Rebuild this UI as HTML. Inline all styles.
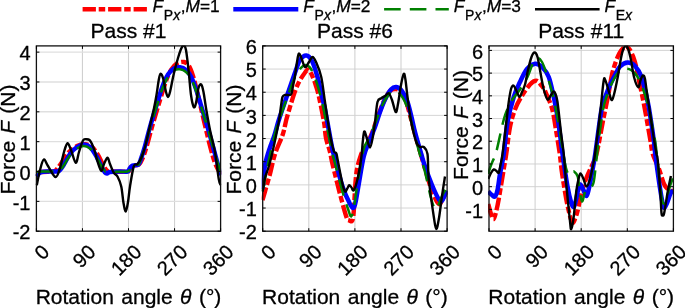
<!DOCTYPE html><html><head><meta charset="utf-8"><title>Force plots</title>
<style>html,body{margin:0;padding:0;background:#fff}svg{display:block}text{font-family:"Liberation Sans",sans-serif;fill:#000;stroke:#000;stroke-width:0.3px}.i{font-style:italic}</style></head><body>
<svg width="685" height="308" viewBox="0 0 685 308">
<rect width="685" height="308" fill="#fff"/>
<line x1="82.6" y1="9.25" x2="146.9" y2="9.25" stroke="#ff0000" stroke-width="4.4" stroke-dasharray="13.3 2.8 6.5 2.9"/>
<text x="152.50" y="12.3" font-size="17.3"><tspan class="i">F</tspan><tspan dx="0.8" dy="7.8" font-size="14">P</tspan><tspan class="i" font-size="14">x</tspan><tspan dy="-7.8" dx="0.6" font-size="17.3">,</tspan><tspan class="i">M</tspan><tspan>=1</tspan></text>
<line x1="233.3" y1="9.25" x2="298.3" y2="9.25" stroke="#0000ff" stroke-width="4.4"/>
<text x="303.20" y="12.3" font-size="17.3"><tspan class="i">F</tspan><tspan dx="0.8" dy="7.8" font-size="14">P</tspan><tspan class="i" font-size="14">x</tspan><tspan dy="-7.8" dx="0.6" font-size="17.3">,</tspan><tspan class="i">M</tspan><tspan>=2</tspan></text>
<line x1="384.1" y1="9.25" x2="448.8" y2="9.25" stroke="#008000" stroke-width="2.5" stroke-dasharray="16.6 9.1"/>
<text x="453.75" y="12.3" font-size="17.3"><tspan class="i">F</tspan><tspan dx="0.8" dy="7.8" font-size="14">P</tspan><tspan class="i" font-size="14">x</tspan><tspan dy="-7.8" dx="0.6" font-size="17.3">,</tspan><tspan class="i">M</tspan><tspan>=3</tspan></text>
<line x1="535.0" y1="9.25" x2="599.6" y2="9.25" stroke="#000" stroke-width="2.6"/>
<text x="604.40" y="12.3" font-size="17.3"><tspan class="i">F</tspan><tspan dx="0.8" dy="7.8" font-size="14">E</tspan><tspan class="i" font-size="14">x</tspan></text>
<g>
<line x1="82.45" y1="45.90" x2="82.45" y2="231.20" stroke="#d0d0d0" stroke-width="1.1"/>
<line x1="128.50" y1="45.90" x2="128.50" y2="231.20" stroke="#d0d0d0" stroke-width="1.1"/>
<line x1="174.55" y1="45.90" x2="174.55" y2="231.20" stroke="#d0d0d0" stroke-width="1.1"/>
<line x1="36.40" y1="201.36" x2="220.60" y2="201.36" stroke="#dfdfdf" stroke-width="1.4"/>
<line x1="36.40" y1="171.51" x2="220.60" y2="171.51" stroke="#dfdfdf" stroke-width="1.4"/>
<line x1="36.40" y1="141.67" x2="220.60" y2="141.67" stroke="#dfdfdf" stroke-width="1.4"/>
<line x1="36.40" y1="111.82" x2="220.60" y2="111.82" stroke="#dfdfdf" stroke-width="1.4"/>
<line x1="36.40" y1="81.98" x2="220.60" y2="81.98" stroke="#dfdfdf" stroke-width="1.4"/>
<line x1="36.40" y1="52.14" x2="220.60" y2="52.14" stroke="#dfdfdf" stroke-width="1.4"/>
<clipPath id="c0"><rect x="35.40" y="45.40" width="185.80" height="186.30"/></clipPath>
<g clip-path="url(#c0)" fill="none" stroke-linejoin="round">
<path d="M36.75 174.50 C37.50 174.08 38.54 172.50 41.25 172.00 C43.96 171.50 50.54 171.83 53.00 171.50 C55.46 171.17 54.83 171.08 56.00 170.00 C57.17 168.92 58.00 167.83 60.00 165.00 C62.00 162.17 65.17 156.17 68.00 153.00 C70.83 149.83 74.17 147.45 77.00 146.00 C79.83 144.55 82.50 144.13 85.00 144.30 C87.50 144.47 89.83 145.22 92.00 147.00 C94.17 148.78 96.00 151.75 98.00 155.00 C100.00 158.25 102.42 163.83 104.00 166.50 C105.58 169.17 106.33 170.17 107.50 171.00 C108.67 171.83 107.67 171.42 111.00 171.50 C114.33 171.58 124.33 172.00 127.50 171.50 C130.67 171.00 129.08 169.50 130.00 168.50 C130.92 167.50 131.50 166.17 133.00 165.50 C134.50 164.83 137.42 165.67 139.00 164.50 C140.58 163.33 141.25 161.42 142.50 158.50 C143.75 155.58 144.92 152.25 146.50 147.00 C148.08 141.75 149.75 134.83 152.00 127.00 C154.25 119.17 157.67 107.67 160.00 100.00 C162.33 92.33 164.17 86.00 166.00 81.00 C167.83 76.00 169.17 72.92 171.00 70.00 C172.83 67.08 174.83 64.83 177.00 63.50 C179.17 62.17 182.00 61.58 184.00 62.00 C186.00 62.42 187.50 63.67 189.00 66.00 C190.50 68.33 191.67 71.83 193.00 76.00 C194.33 80.17 195.21 83.67 197.00 91.00 C198.79 98.33 201.58 110.83 203.75 120.00 C205.92 129.17 208.12 138.83 210.00 146.00 C211.88 153.17 213.21 158.25 215.00 163.00 C216.79 167.75 219.79 172.58 220.75 174.50" stroke="#ff0000" stroke-width="4.4" stroke-dasharray="13.3 2.8 6.5 2.9"/>
<path d="M36.75 176.50 C37.12 176.00 38.25 174.25 39.00 173.50 C39.75 172.75 39.92 172.33 41.25 172.00 C42.58 171.67 44.38 171.58 47.00 171.50 C49.62 171.42 54.92 171.67 57.00 171.50 C59.08 171.33 58.50 171.42 59.50 170.50 C60.50 169.58 61.25 168.75 63.00 166.00 C64.75 163.25 67.67 157.17 70.00 154.00 C72.33 150.83 74.71 148.58 77.00 147.00 C79.29 145.42 81.58 144.50 83.75 144.50 C85.92 144.50 87.96 145.17 90.00 147.00 C92.04 148.83 94.00 152.08 96.00 155.50 C98.00 158.92 100.50 164.67 102.00 167.50 C103.50 170.33 104.17 171.50 105.00 172.50 C105.83 173.50 106.17 173.58 107.00 173.50 C107.83 173.42 107.83 172.33 110.00 172.00 C112.17 171.67 117.08 171.58 120.00 171.50 C122.92 171.42 125.83 172.08 127.50 171.50 C129.17 170.92 129.17 169.00 130.00 168.00 C130.83 167.00 131.08 166.08 132.50 165.50 C133.92 164.92 137.04 165.75 138.50 164.50 C139.96 163.25 140.17 161.08 141.25 158.00 C142.33 154.92 143.54 151.17 145.00 146.00 C146.46 140.83 147.92 134.33 150.00 127.00 C152.08 119.67 155.33 109.00 157.50 102.00 C159.67 95.00 161.25 89.58 163.00 85.00 C164.75 80.42 166.17 77.25 168.00 74.50 C169.83 71.75 172.00 69.70 174.00 68.50 C176.00 67.30 178.00 67.05 180.00 67.30 C182.00 67.55 184.12 68.38 186.00 70.00 C187.88 71.62 189.58 73.83 191.25 77.00 C192.92 80.17 194.54 84.83 196.00 89.00 C197.46 93.17 198.08 95.67 200.00 102.00 C201.92 108.33 205.00 118.33 207.50 127.00 C210.00 135.67 212.79 145.96 215.00 154.00 C217.21 162.04 219.79 171.71 220.75 175.25" stroke="#0000ff" stroke-width="4.5"/>
<path d="M36.75 172.00 C37.50 171.92 37.88 171.58 41.25 171.50 C44.62 171.42 53.96 171.67 57.00 171.50 C60.04 171.33 58.50 171.33 59.50 170.50 C60.50 169.67 61.25 169.00 63.00 166.50 C64.75 164.00 67.67 158.50 70.00 155.50 C72.33 152.50 74.71 150.08 77.00 148.50 C79.29 146.92 81.58 146.00 83.75 146.00 C85.92 146.00 87.96 146.75 90.00 148.50 C92.04 150.25 94.00 153.42 96.00 156.50 C98.00 159.58 100.50 164.58 102.00 167.00 C103.50 169.42 104.00 170.25 105.00 171.00 C106.00 171.75 104.25 171.42 108.00 171.50 C111.75 171.58 123.83 172.08 127.50 171.50 C131.17 170.92 129.17 169.00 130.00 168.00 C130.83 167.00 131.08 166.08 132.50 165.50 C133.92 164.92 137.04 165.75 138.50 164.50 C139.96 163.25 140.17 161.00 141.25 158.00 C142.33 155.00 143.54 151.50 145.00 146.50 C146.46 141.50 147.92 135.17 150.00 128.00 C152.08 120.83 155.33 110.33 157.50 103.50 C159.67 96.67 161.25 91.42 163.00 87.00 C164.75 82.58 166.17 79.75 168.00 77.00 C169.83 74.25 172.00 71.78 174.00 70.50 C176.00 69.22 178.00 69.05 180.00 69.30 C182.00 69.55 184.12 70.38 186.00 72.00 C187.88 73.62 189.58 75.92 191.25 79.00 C192.92 82.08 194.54 86.50 196.00 90.50 C197.46 94.50 198.08 96.83 200.00 103.00 C201.92 109.17 205.00 119.00 207.50 127.50 C210.00 136.00 212.79 146.50 215.00 154.00 C217.21 161.50 219.79 169.42 220.75 172.50" stroke="#008000" stroke-width="2.5" stroke-dasharray="16.6 9.1"/>
<path d="M36.75 185.25 C37.29 182.71 38.83 174.29 40.00 170.00 C41.17 165.71 42.42 160.17 43.75 159.50 C45.08 158.83 46.04 163.08 48.00 166.00 C49.96 168.92 53.50 176.67 55.50 177.00 C57.50 177.33 58.58 172.17 60.00 168.00 C61.42 163.83 62.75 156.12 64.00 152.00 C65.25 147.88 66.33 143.58 67.50 143.25 C68.67 142.92 69.62 146.75 71.00 150.00 C72.38 153.25 74.42 162.42 75.75 162.75 C77.08 163.08 77.79 155.71 79.00 152.00 C80.21 148.29 81.79 142.62 83.00 140.50 C84.21 138.38 85.17 139.33 86.25 139.25 C87.33 139.17 88.54 139.21 89.50 140.00 C90.46 140.79 91.08 142.00 92.00 144.00 C92.92 146.00 94.08 149.08 95.00 152.00 C95.92 154.92 96.46 158.33 97.50 161.50 C98.54 164.67 100.17 170.58 101.25 171.00 C102.33 171.42 102.96 166.21 104.00 164.00 C105.04 161.79 106.50 157.75 107.50 157.75 C108.50 157.75 108.96 161.50 110.00 164.00 C111.04 166.50 112.50 170.67 113.75 172.75 C115.00 174.83 116.25 174.21 117.50 176.50 C118.75 178.79 120.25 182.08 121.25 186.50 C122.25 190.92 122.75 198.83 123.50 203.00 C124.25 207.17 125.00 211.67 125.75 211.50 C126.50 211.33 127.29 206.17 128.00 202.00 C128.71 197.83 129.04 192.42 130.00 186.50 C130.96 180.58 132.50 170.25 133.75 166.50 C135.00 162.75 136.25 165.42 137.50 164.00 C138.75 162.58 140.00 160.83 141.25 158.00 C142.50 155.17 143.71 151.67 145.00 147.00 C146.29 142.33 147.54 136.25 149.00 130.00 C150.46 123.75 152.50 115.33 153.75 109.50 C155.00 103.67 155.67 99.92 156.50 95.00 C157.33 90.08 158.08 83.54 158.75 80.00 C159.42 76.46 159.79 74.08 160.50 73.75 C161.21 73.42 162.08 74.96 163.00 78.00 C163.92 81.04 165.17 88.83 166.00 92.00 C166.83 95.17 167.33 97.00 168.00 97.00 C168.67 97.00 169.04 95.83 170.00 92.00 C170.96 88.17 172.42 79.67 173.75 74.00 C175.08 68.33 176.71 62.33 178.00 58.00 C179.29 53.67 180.54 50.08 181.50 48.00 C182.46 45.92 183.00 45.17 183.75 45.50 C184.50 45.83 185.17 45.58 186.00 50.00 C186.83 54.42 187.92 64.50 188.75 72.00 C189.58 79.50 190.17 89.17 191.00 95.00 C191.83 100.83 192.92 105.67 193.75 107.00 C194.58 108.33 195.21 106.17 196.00 103.00 C196.79 99.83 197.62 91.08 198.50 88.00 C199.38 84.92 200.42 83.83 201.25 84.50 C202.08 85.17 202.67 87.83 203.50 92.00 C204.33 96.17 205.17 103.17 206.25 109.50 C207.33 115.83 208.54 122.92 210.00 130.00 C211.46 137.08 213.54 143.83 215.00 152.00 C216.46 160.17 217.79 173.46 218.75 179.00 C219.71 184.54 220.42 184.21 220.75 185.25" stroke="#000" stroke-width="2.4"/>
</g>
<rect x="36.40" y="45.90" width="184.20" height="185.30" fill="none" stroke="#111" stroke-width="1.3"/>
<line x1="36.40" y1="231.20" x2="36.40" y2="228.20" stroke="#000" stroke-width="1"/>
<line x1="36.40" y1="45.90" x2="36.40" y2="48.90" stroke="#000" stroke-width="1"/>
<line x1="82.45" y1="231.20" x2="82.45" y2="228.20" stroke="#000" stroke-width="1"/>
<line x1="82.45" y1="45.90" x2="82.45" y2="48.90" stroke="#000" stroke-width="1"/>
<line x1="128.50" y1="231.20" x2="128.50" y2="228.20" stroke="#000" stroke-width="1"/>
<line x1="128.50" y1="45.90" x2="128.50" y2="48.90" stroke="#000" stroke-width="1"/>
<line x1="174.55" y1="231.20" x2="174.55" y2="228.20" stroke="#000" stroke-width="1"/>
<line x1="174.55" y1="45.90" x2="174.55" y2="48.90" stroke="#000" stroke-width="1"/>
<line x1="220.60" y1="231.20" x2="220.60" y2="228.20" stroke="#000" stroke-width="1"/>
<line x1="220.60" y1="45.90" x2="220.60" y2="48.90" stroke="#000" stroke-width="1"/>
<line x1="36.40" y1="231.20" x2="39.40" y2="231.20" stroke="#000" stroke-width="1"/>
<line x1="220.60" y1="231.20" x2="217.60" y2="231.20" stroke="#000" stroke-width="1"/>
<text x="30.50" y="239.40" font-size="20" text-anchor="end">-2</text>
<line x1="36.40" y1="201.36" x2="39.40" y2="201.36" stroke="#000" stroke-width="1"/>
<line x1="220.60" y1="201.36" x2="217.60" y2="201.36" stroke="#000" stroke-width="1"/>
<text x="30.50" y="209.56" font-size="20" text-anchor="end">-1</text>
<line x1="36.40" y1="171.51" x2="39.40" y2="171.51" stroke="#000" stroke-width="1"/>
<line x1="220.60" y1="171.51" x2="217.60" y2="171.51" stroke="#000" stroke-width="1"/>
<text x="30.50" y="179.71" font-size="20" text-anchor="end">0</text>
<line x1="36.40" y1="141.67" x2="39.40" y2="141.67" stroke="#000" stroke-width="1"/>
<line x1="220.60" y1="141.67" x2="217.60" y2="141.67" stroke="#000" stroke-width="1"/>
<text x="30.50" y="149.87" font-size="20" text-anchor="end">1</text>
<line x1="36.40" y1="111.82" x2="39.40" y2="111.82" stroke="#000" stroke-width="1"/>
<line x1="220.60" y1="111.82" x2="217.60" y2="111.82" stroke="#000" stroke-width="1"/>
<text x="30.50" y="120.02" font-size="20" text-anchor="end">2</text>
<line x1="36.40" y1="81.98" x2="39.40" y2="81.98" stroke="#000" stroke-width="1"/>
<line x1="220.60" y1="81.98" x2="217.60" y2="81.98" stroke="#000" stroke-width="1"/>
<text x="30.50" y="90.18" font-size="20" text-anchor="end">3</text>
<line x1="36.40" y1="52.14" x2="39.40" y2="52.14" stroke="#000" stroke-width="1"/>
<line x1="220.60" y1="52.14" x2="217.60" y2="52.14" stroke="#000" stroke-width="1"/>
<text x="30.50" y="60.34" font-size="20" text-anchor="end">4</text>
<text transform="translate(50.70 253.20) rotate(-45)" font-size="20" text-anchor="end">0</text>
<text transform="translate(96.75 253.20) rotate(-45)" font-size="20" text-anchor="end">90</text>
<text transform="translate(142.80 253.20) rotate(-45)" font-size="20" text-anchor="end">180</text>
<text transform="translate(188.85 253.20) rotate(-45)" font-size="20" text-anchor="end">270</text>
<text transform="translate(234.90 253.20) rotate(-45)" font-size="20" text-anchor="end">360</text>
<text x="128.50" y="37.6" font-size="21" text-anchor="middle">Pass #1</text>
<text x="128.50" y="303.5" font-size="21" word-spacing="1.6" text-anchor="middle">Rotation angle <tspan class="i">θ</tspan> (°)</text>
<text transform="translate(15.10 139.55) rotate(-90)" font-size="21" word-spacing="1.3" text-anchor="middle">Force <tspan class="i">F</tspan> (N)</text>
</g>
<g>
<line x1="308.80" y1="45.90" x2="308.80" y2="231.20" stroke="#d2d2d2" stroke-width="1.1"/>
<line x1="354.90" y1="45.90" x2="354.90" y2="231.20" stroke="#d2d2d2" stroke-width="1.1"/>
<line x1="401.00" y1="45.90" x2="401.00" y2="231.20" stroke="#d2d2d2" stroke-width="1.1"/>
<line x1="262.70" y1="208.04" x2="447.10" y2="208.04" stroke="#d0d0d0" stroke-width="0.9"/>
<line x1="262.70" y1="184.88" x2="447.10" y2="184.88" stroke="#d0d0d0" stroke-width="0.9"/>
<line x1="262.70" y1="161.71" x2="447.10" y2="161.71" stroke="#d0d0d0" stroke-width="0.9"/>
<line x1="262.70" y1="138.55" x2="447.10" y2="138.55" stroke="#d0d0d0" stroke-width="0.9"/>
<line x1="262.70" y1="115.39" x2="447.10" y2="115.39" stroke="#d0d0d0" stroke-width="0.9"/>
<line x1="262.70" y1="92.22" x2="447.10" y2="92.22" stroke="#d0d0d0" stroke-width="0.9"/>
<line x1="262.70" y1="69.06" x2="447.10" y2="69.06" stroke="#d0d0d0" stroke-width="0.9"/>
<line x1="262.70" y1="45.90" x2="447.10" y2="45.90" stroke="#d0d0d0" stroke-width="0.9"/>
<clipPath id="c1"><rect x="261.70" y="45.40" width="186.00" height="186.30"/></clipPath>
<g clip-path="url(#c1)" fill="none" stroke-linejoin="round">
<path d="M262.50 200.25 C263.08 198.21 264.75 192.38 266.00 188.00 C267.25 183.62 268.50 179.67 270.00 174.00 C271.50 168.33 272.88 160.58 275.00 154.00 C277.12 147.42 280.83 140.33 282.75 134.50 C284.67 128.67 285.04 124.42 286.50 119.00 C287.96 113.58 290.00 106.83 291.50 102.00 C293.00 97.17 294.25 93.33 295.50 90.00 C296.75 86.67 297.58 84.67 299.00 82.00 C300.42 79.33 302.43 76.08 304.00 74.00 C305.57 71.92 306.94 69.00 308.40 69.50 C309.86 70.00 311.48 74.25 312.75 77.00 C314.02 79.75 314.96 82.67 316.00 86.00 C317.04 89.33 317.67 91.00 319.00 97.00 C320.33 103.00 322.83 115.17 324.00 122.00 C325.17 128.83 325.00 133.00 326.00 138.00 C327.00 143.00 328.92 147.67 330.00 152.00 C331.08 156.33 330.83 157.00 332.50 164.00 C334.17 171.00 337.71 185.25 340.00 194.00 C342.29 202.75 344.79 212.12 346.25 216.50 C347.71 220.88 347.76 219.57 348.75 220.25 C349.74 220.93 351.37 222.06 352.20 220.60 C353.03 219.14 353.07 219.27 353.75 211.50 C354.43 203.73 355.00 183.58 356.25 174.00 C357.50 164.42 359.62 158.67 361.25 154.00 C362.88 149.33 364.21 149.50 366.00 146.00 C367.79 142.50 370.00 138.00 372.00 133.00 C374.00 128.00 376.00 121.33 378.00 116.00 C380.00 110.67 382.00 105.17 384.00 101.00 C386.00 96.83 388.00 93.00 390.00 91.00 C392.00 89.00 394.17 88.83 396.00 89.00 C397.83 89.17 399.33 90.00 401.00 92.00 C402.67 94.00 404.33 96.50 406.00 101.00 C407.67 105.50 409.50 113.50 411.00 119.00 C412.50 124.50 413.33 128.00 415.00 134.00 C416.67 140.00 419.17 148.67 421.00 155.00 C422.83 161.33 424.17 166.00 426.00 172.00 C427.83 178.00 429.88 185.67 432.00 191.00 C434.12 196.33 436.92 202.83 438.75 204.00 C440.58 205.17 441.71 200.08 443.00 198.00 C444.29 195.92 445.92 192.58 446.50 191.50" stroke="#ff0000" stroke-width="4.4" stroke-dasharray="13.3 2.8 6.5 2.9"/>
<path d="M262.50 189.00 C262.67 187.17 263.02 182.30 263.50 178.00 C263.98 173.70 264.38 168.10 265.40 163.20 C266.42 158.30 268.13 153.13 269.60 148.60 C271.07 144.07 272.72 140.60 274.20 136.00 C275.68 131.40 277.03 125.75 278.50 121.00 C279.97 116.25 281.25 112.67 283.00 107.50 C284.75 102.33 286.96 95.92 289.00 90.00 C291.04 84.08 293.42 77.00 295.25 72.00 C297.08 67.00 298.17 62.75 300.00 60.00 C301.83 57.25 304.25 55.33 306.25 55.50 C308.25 55.67 310.12 57.42 312.00 61.00 C313.88 64.58 316.00 71.83 317.50 77.00 C319.00 82.17 319.75 86.58 321.00 92.00 C322.25 97.42 323.67 103.00 325.00 109.50 C326.33 116.00 327.75 124.33 329.00 131.00 C330.25 137.67 331.50 144.83 332.50 149.50 C333.50 154.17 333.33 152.83 335.00 159.00 C336.67 165.17 340.00 179.00 342.50 186.50 C345.00 194.00 348.12 200.46 350.00 204.00 C351.88 207.54 352.75 208.42 353.75 207.75 C354.75 207.08 355.17 203.96 356.00 200.00 C356.83 196.04 357.46 191.25 358.75 184.00 C360.04 176.75 362.04 163.50 363.75 156.50 C365.46 149.50 367.12 146.92 369.00 142.00 C370.88 137.08 373.17 132.00 375.00 127.00 C376.83 122.00 378.33 116.58 380.00 112.00 C381.67 107.42 383.17 103.25 385.00 99.50 C386.83 95.75 389.12 91.58 391.00 89.50 C392.88 87.42 394.42 86.75 396.25 87.00 C398.08 87.25 400.12 88.50 402.00 91.00 C403.88 93.50 405.92 97.67 407.50 102.00 C409.08 106.33 410.25 112.00 411.50 117.00 C412.75 122.00 413.38 125.83 415.00 132.00 C416.62 138.17 419.58 148.25 421.25 154.00 C422.92 159.75 423.21 161.33 425.00 166.50 C426.79 171.67 429.83 179.75 432.00 185.00 C434.17 190.25 436.46 195.25 438.00 198.00 C439.54 200.75 440.25 201.67 441.25 201.50 C442.25 201.33 443.12 198.83 444.00 197.00 C444.88 195.17 446.08 191.58 446.50 190.50" stroke="#0000ff" stroke-width="4.5"/>
<path d="M262.50 191.50 C262.92 189.42 263.75 185.08 265.00 179.00 C266.25 172.92 268.17 163.17 270.00 155.00 C271.83 146.83 274.00 137.17 276.00 130.00 C278.00 122.83 279.92 118.00 282.00 112.00 C284.08 106.00 286.42 99.67 288.50 94.00 C290.58 88.33 292.58 82.17 294.50 78.00 C296.42 73.83 298.17 71.17 300.00 69.00 C301.83 66.83 303.67 65.00 305.50 65.00 C307.33 65.00 309.17 66.17 311.00 69.00 C312.83 71.83 314.83 77.17 316.50 82.00 C318.17 86.83 319.58 92.33 321.00 98.00 C322.42 103.67 323.67 109.50 325.00 116.00 C326.33 122.50 327.75 130.67 329.00 137.00 C330.25 143.33 331.50 149.67 332.50 154.00 C333.50 158.33 333.42 157.00 335.00 163.00 C336.58 169.00 339.83 182.33 342.00 190.00 C344.17 197.67 346.46 204.58 348.00 209.00 C349.54 213.42 350.25 216.83 351.25 216.50 C352.25 216.17 353.04 211.92 354.00 207.00 C354.96 202.08 355.83 194.50 357.00 187.00 C358.17 179.50 359.83 168.50 361.00 162.00 C362.17 155.50 362.67 152.00 364.00 148.00 C365.33 144.00 367.17 142.00 369.00 138.00 C370.83 134.00 373.17 128.58 375.00 124.00 C376.83 119.42 378.33 114.50 380.00 110.50 C381.67 106.50 383.25 103.00 385.00 100.00 C386.75 97.00 388.83 94.04 390.50 92.50 C392.17 90.96 393.42 90.50 395.00 90.75 C396.58 91.00 398.33 92.12 400.00 94.00 C401.67 95.88 403.33 98.17 405.00 102.00 C406.67 105.83 408.50 111.83 410.00 117.00 C411.50 122.17 412.33 126.67 414.00 133.00 C415.67 139.33 418.17 148.50 420.00 155.00 C421.83 161.50 423.17 164.83 425.00 172.00 C426.83 179.17 429.33 191.83 431.00 198.00 C432.67 204.17 433.83 207.67 435.00 209.00 C436.17 210.33 436.83 208.17 438.00 206.00 C439.17 203.83 440.58 199.00 442.00 196.00 C443.42 193.00 445.75 189.33 446.50 188.00" stroke="#008000" stroke-width="2.5" stroke-dasharray="16.6 9.1"/>
<path d="M262.50 191.50 C262.92 189.25 263.96 182.17 265.00 178.00 C266.04 173.83 267.50 170.83 268.75 166.50 C270.00 162.17 270.83 159.42 272.50 152.00 C274.17 144.58 277.33 129.67 278.75 122.00 C280.17 114.33 280.38 110.17 281.00 106.00 C281.62 101.83 281.83 98.83 282.50 97.00 C283.17 95.17 283.58 95.42 285.00 95.00 C286.42 94.58 289.67 96.00 291.00 94.50 C292.33 93.00 292.33 89.08 293.00 86.00 C293.67 82.92 294.33 80.00 295.00 76.00 C295.67 72.00 296.38 65.71 297.00 62.00 C297.62 58.29 298.08 54.58 298.75 53.75 C299.42 52.92 299.96 54.79 301.00 57.00 C302.04 59.21 303.67 66.17 305.00 67.00 C306.33 67.83 307.75 63.67 309.00 62.00 C310.25 60.33 311.33 57.00 312.50 57.00 C313.67 57.00 314.54 58.67 316.00 62.00 C317.46 65.33 319.75 70.33 321.25 77.00 C322.75 83.67 323.54 92.42 325.00 102.00 C326.46 111.58 328.54 126.38 330.00 134.50 C331.46 142.62 332.71 147.62 333.75 150.75 C334.79 153.88 335.62 151.88 336.25 153.25 C336.88 154.62 336.46 153.88 337.50 159.00 C338.54 164.12 341.25 178.58 342.50 184.00 C343.75 189.42 344.25 190.67 345.00 191.50 C345.75 192.33 346.29 190.04 347.00 189.00 C347.71 187.96 348.50 185.50 349.25 185.25 C350.00 185.00 350.75 186.67 351.50 187.50 C352.25 188.33 352.75 191.67 353.75 190.25 C354.75 188.83 356.25 184.38 357.50 179.00 C358.75 173.62 360.38 164.17 361.25 158.00 C362.12 151.83 362.25 146.42 362.75 142.00 C363.25 137.58 363.62 132.33 364.25 131.50 C364.88 130.67 365.54 134.33 366.50 137.00 C367.46 139.67 368.92 147.67 370.00 147.50 C371.08 147.33 372.17 140.25 373.00 136.00 C373.83 131.75 374.25 127.67 375.00 122.00 C375.75 116.33 376.46 105.96 377.50 102.00 C378.54 98.04 380.00 99.25 381.25 98.25 C382.50 97.25 383.75 96.83 385.00 96.00 C386.25 95.17 387.58 92.58 388.75 93.25 C389.92 93.92 390.83 96.88 392.00 100.00 C393.17 103.12 394.75 111.33 395.75 112.00 C396.75 112.67 397.12 108.50 398.00 104.00 C398.88 99.50 400.04 90.04 401.00 85.00 C401.96 79.96 403.00 74.58 403.75 73.75 C404.50 72.92 404.88 76.12 405.50 80.00 C406.12 83.88 406.54 90.00 407.50 97.00 C408.46 104.00 409.79 114.50 411.25 122.00 C412.71 129.50 414.79 137.83 416.25 142.00 C417.71 146.17 418.75 146.17 420.00 147.00 C421.25 147.83 422.50 145.83 423.75 147.00 C425.00 148.17 426.67 148.67 427.50 154.00 C428.33 159.33 427.71 168.58 428.75 179.00 C429.79 189.42 432.50 208.17 433.75 216.50 C435.00 224.83 435.38 228.75 436.25 229.00 C437.12 229.25 438.04 223.50 439.00 218.00 C439.96 212.50 441.00 202.92 442.00 196.00 C443.00 189.08 444.50 179.75 445.00 176.50" stroke="#000" stroke-width="2.4"/>
</g>
<rect x="262.70" y="45.90" width="184.40" height="185.30" fill="none" stroke="#111" stroke-width="1.3"/>
<line x1="262.70" y1="231.20" x2="262.70" y2="228.20" stroke="#000" stroke-width="1"/>
<line x1="262.70" y1="45.90" x2="262.70" y2="48.90" stroke="#000" stroke-width="1"/>
<line x1="308.80" y1="231.20" x2="308.80" y2="228.20" stroke="#000" stroke-width="1"/>
<line x1="308.80" y1="45.90" x2="308.80" y2="48.90" stroke="#000" stroke-width="1"/>
<line x1="354.90" y1="231.20" x2="354.90" y2="228.20" stroke="#000" stroke-width="1"/>
<line x1="354.90" y1="45.90" x2="354.90" y2="48.90" stroke="#000" stroke-width="1"/>
<line x1="401.00" y1="231.20" x2="401.00" y2="228.20" stroke="#000" stroke-width="1"/>
<line x1="401.00" y1="45.90" x2="401.00" y2="48.90" stroke="#000" stroke-width="1"/>
<line x1="447.10" y1="231.20" x2="447.10" y2="228.20" stroke="#000" stroke-width="1"/>
<line x1="447.10" y1="45.90" x2="447.10" y2="48.90" stroke="#000" stroke-width="1"/>
<line x1="262.70" y1="231.20" x2="265.70" y2="231.20" stroke="#000" stroke-width="1"/>
<line x1="447.10" y1="231.20" x2="444.10" y2="231.20" stroke="#000" stroke-width="1"/>
<text x="256.80" y="239.40" font-size="20" text-anchor="end">-2</text>
<line x1="262.70" y1="208.04" x2="265.70" y2="208.04" stroke="#000" stroke-width="1"/>
<line x1="447.10" y1="208.04" x2="444.10" y2="208.04" stroke="#000" stroke-width="1"/>
<text x="256.80" y="216.24" font-size="20" text-anchor="end">-1</text>
<line x1="262.70" y1="184.88" x2="265.70" y2="184.88" stroke="#000" stroke-width="1"/>
<line x1="447.10" y1="184.88" x2="444.10" y2="184.88" stroke="#000" stroke-width="1"/>
<text x="256.80" y="193.07" font-size="20" text-anchor="end">0</text>
<line x1="262.70" y1="161.71" x2="265.70" y2="161.71" stroke="#000" stroke-width="1"/>
<line x1="447.10" y1="161.71" x2="444.10" y2="161.71" stroke="#000" stroke-width="1"/>
<text x="256.80" y="169.91" font-size="20" text-anchor="end">1</text>
<line x1="262.70" y1="138.55" x2="265.70" y2="138.55" stroke="#000" stroke-width="1"/>
<line x1="447.10" y1="138.55" x2="444.10" y2="138.55" stroke="#000" stroke-width="1"/>
<text x="256.80" y="146.75" font-size="20" text-anchor="end">2</text>
<line x1="262.70" y1="115.39" x2="265.70" y2="115.39" stroke="#000" stroke-width="1"/>
<line x1="447.10" y1="115.39" x2="444.10" y2="115.39" stroke="#000" stroke-width="1"/>
<text x="256.80" y="123.59" font-size="20" text-anchor="end">3</text>
<line x1="262.70" y1="92.22" x2="265.70" y2="92.22" stroke="#000" stroke-width="1"/>
<line x1="447.10" y1="92.22" x2="444.10" y2="92.22" stroke="#000" stroke-width="1"/>
<text x="256.80" y="100.42" font-size="20" text-anchor="end">4</text>
<line x1="262.70" y1="69.06" x2="265.70" y2="69.06" stroke="#000" stroke-width="1"/>
<line x1="447.10" y1="69.06" x2="444.10" y2="69.06" stroke="#000" stroke-width="1"/>
<text x="256.80" y="77.26" font-size="20" text-anchor="end">5</text>
<line x1="262.70" y1="45.90" x2="265.70" y2="45.90" stroke="#000" stroke-width="1"/>
<line x1="447.10" y1="45.90" x2="444.10" y2="45.90" stroke="#000" stroke-width="1"/>
<text x="256.80" y="54.10" font-size="20" text-anchor="end">6</text>
<text transform="translate(277.00 253.20) rotate(-45)" font-size="20" text-anchor="end">0</text>
<text transform="translate(323.10 253.20) rotate(-45)" font-size="20" text-anchor="end">90</text>
<text transform="translate(369.20 253.20) rotate(-45)" font-size="20" text-anchor="end">180</text>
<text transform="translate(415.30 253.20) rotate(-45)" font-size="20" text-anchor="end">270</text>
<text transform="translate(461.40 253.20) rotate(-45)" font-size="20" text-anchor="end">360</text>
<text x="354.90" y="37.6" font-size="21" text-anchor="middle">Pass #6</text>
<text x="354.90" y="303.5" font-size="21" word-spacing="1.6" text-anchor="middle">Rotation angle <tspan class="i">θ</tspan> (°)</text>
<text transform="translate(241.40 139.55) rotate(-90)" font-size="21" word-spacing="1.3" text-anchor="middle">Force <tspan class="i">F</tspan> (N)</text>
</g>
<g>
<line x1="535.10" y1="45.90" x2="535.10" y2="231.20" stroke="#cecece" stroke-width="1.0"/>
<line x1="581.20" y1="45.90" x2="581.20" y2="231.20" stroke="#cecece" stroke-width="1.0"/>
<line x1="627.30" y1="45.90" x2="627.30" y2="231.20" stroke="#cecece" stroke-width="1.0"/>
<line x1="489.00" y1="209.39" x2="673.40" y2="209.39" stroke="#cecece" stroke-width="0.9"/>
<line x1="489.00" y1="186.68" x2="673.40" y2="186.68" stroke="#cecece" stroke-width="0.9"/>
<line x1="489.00" y1="163.97" x2="673.40" y2="163.97" stroke="#cecece" stroke-width="0.9"/>
<line x1="489.00" y1="141.25" x2="673.40" y2="141.25" stroke="#cecece" stroke-width="0.9"/>
<line x1="489.00" y1="118.54" x2="673.40" y2="118.54" stroke="#cecece" stroke-width="0.9"/>
<line x1="489.00" y1="95.83" x2="673.40" y2="95.83" stroke="#cecece" stroke-width="0.9"/>
<line x1="489.00" y1="73.11" x2="673.40" y2="73.11" stroke="#cecece" stroke-width="0.9"/>
<line x1="489.00" y1="50.40" x2="673.40" y2="50.40" stroke="#cecece" stroke-width="0.9"/>
<clipPath id="c2"><rect x="488.00" y="45.40" width="186.00" height="186.30"/></clipPath>
<g clip-path="url(#c2)" fill="none" stroke-linejoin="round">
<path d="M488.30 204.00 C488.75 205.67 490.09 211.50 491.00 214.00 C491.91 216.50 492.83 219.67 493.75 219.00 C494.67 218.33 495.67 213.33 496.50 210.00 C497.33 206.67 497.54 205.83 498.75 199.00 C499.96 192.17 502.50 176.50 503.75 169.00 C505.00 161.50 505.21 161.00 506.25 154.00 C507.29 147.00 508.54 134.42 510.00 127.00 C511.46 119.58 513.12 114.50 515.00 109.50 C516.88 104.50 518.75 101.17 521.25 97.00 C523.75 92.83 527.50 87.21 530.00 84.50 C532.50 81.79 534.42 80.67 536.25 80.75 C538.08 80.83 539.46 83.12 541.00 85.00 C542.54 86.88 543.62 87.92 545.50 92.00 C547.38 96.08 550.50 102.83 552.30 109.50 C554.10 116.17 555.05 124.58 556.30 132.00 C557.55 139.42 558.88 147.42 559.80 154.00 C560.72 160.58 560.72 164.00 561.80 171.50 C562.88 179.00 564.88 191.58 566.25 199.00 C567.62 206.42 568.96 212.04 570.00 216.00 C571.04 219.96 571.67 222.25 572.50 222.75 C573.33 223.25 574.12 221.08 575.00 219.00 C575.88 216.92 576.67 214.58 577.75 210.25 C578.83 205.92 580.04 198.42 581.50 193.00 C582.96 187.58 584.83 182.17 586.50 177.75 C588.17 173.33 589.83 170.46 591.50 166.50 C593.17 162.54 594.62 161.42 596.50 154.00 C598.38 146.58 601.17 130.00 602.75 122.00 C604.33 114.00 604.96 111.17 606.00 106.00 C607.04 100.83 608.00 96.25 609.00 91.00 C610.00 85.75 610.88 79.33 612.00 74.50 C613.12 69.67 614.47 65.55 615.70 62.00 C616.93 58.45 618.18 55.48 619.40 53.20 C620.62 50.92 621.85 49.37 623.00 48.30 C624.15 47.23 625.22 46.63 626.30 46.80 C627.38 46.97 628.35 47.63 629.50 49.30 C630.65 50.97 632.03 53.68 633.20 56.80 C634.37 59.92 635.45 63.63 636.50 68.00 C637.55 72.37 638.25 76.92 639.50 83.00 C640.75 89.08 642.21 95.08 644.00 104.50 C645.79 113.92 648.79 131.25 650.25 139.50 C651.71 147.75 651.29 149.08 652.75 154.00 C654.21 158.92 657.12 164.00 659.00 169.00 C660.88 174.00 662.33 180.46 664.00 184.00 C665.67 187.54 667.50 189.08 669.00 190.25 C670.50 191.42 672.33 190.88 673.00 191.00" stroke="#ff0000" stroke-width="4.4" stroke-dasharray="13.3 2.8 6.5 2.9"/>
<path d="M488.30 191.50 C488.92 192.08 490.88 194.17 492.00 195.00 C493.12 195.83 494.08 197.33 495.00 196.50 C495.92 195.67 496.67 193.75 497.50 190.00 C498.33 186.25 498.96 180.00 500.00 174.00 C501.04 168.00 502.50 162.67 503.75 154.00 C505.00 145.33 505.83 131.50 507.50 122.00 C509.17 112.50 511.67 103.67 513.75 97.00 C515.83 90.33 517.79 86.67 520.00 82.00 C522.21 77.33 524.50 72.04 527.00 69.00 C529.50 65.96 532.50 64.08 535.00 63.75 C537.50 63.42 539.71 64.79 542.00 67.00 C544.29 69.21 546.79 72.00 548.75 77.00 C550.71 82.00 552.38 90.83 553.75 97.00 C555.12 103.17 555.96 107.75 557.00 114.00 C558.04 120.25 559.08 127.83 560.00 134.50 C560.92 141.17 561.25 145.33 562.50 154.00 C563.75 162.67 566.08 178.50 567.50 186.50 C568.92 194.50 569.96 198.58 571.00 202.00 C572.04 205.42 572.92 207.33 573.75 207.00 C574.58 206.67 575.21 203.17 576.00 200.00 C576.79 196.83 577.75 190.58 578.50 188.00 C579.25 185.42 579.75 184.33 580.50 184.50 C581.25 184.67 582.00 187.08 583.00 189.00 C584.00 190.92 585.50 196.17 586.50 196.00 C587.50 195.83 588.17 191.42 589.00 188.00 C589.83 184.58 590.46 181.17 591.50 175.50 C592.54 169.83 593.58 165.00 595.25 154.00 C596.92 143.00 599.71 119.33 601.50 109.50 C603.29 99.67 604.54 99.17 606.00 95.00 C607.46 90.83 608.92 87.50 610.25 84.50 C611.58 81.50 612.38 80.00 614.00 77.00 C615.62 74.00 617.71 68.92 620.00 66.50 C622.29 64.08 625.25 62.58 627.75 62.50 C630.25 62.42 632.71 63.58 635.00 66.00 C637.29 68.42 639.38 71.00 641.50 77.00 C643.62 83.00 646.17 94.67 647.75 102.00 C649.33 109.33 649.96 114.33 651.00 121.00 C652.04 127.67 653.29 136.50 654.00 142.00 C654.71 147.50 654.42 147.42 655.25 154.00 C656.08 160.58 657.88 173.83 659.00 181.50 C660.12 189.17 661.17 195.62 662.00 200.00 C662.83 204.38 663.17 207.25 664.00 207.75 C664.83 208.25 665.96 205.29 667.00 203.00 C668.04 200.71 669.25 196.17 670.25 194.00 C671.25 191.83 672.54 190.67 673.00 190.00" stroke="#0000ff" stroke-width="4.5"/>
<path d="M488.30 174.00 C488.58 173.00 489.30 170.08 490.00 168.00 C490.70 165.92 491.46 164.17 492.50 161.50 C493.54 158.83 494.58 158.17 496.25 152.00 C497.92 145.83 500.83 131.17 502.50 124.50 C504.17 117.83 504.58 116.17 506.25 112.00 C507.92 107.83 510.21 103.25 512.50 99.50 C514.79 95.75 517.50 93.25 520.00 89.50 C522.50 85.75 525.33 81.42 527.50 77.00 C529.67 72.58 531.33 66.17 533.00 63.00 C534.67 59.83 536.00 58.17 537.50 58.00 C539.00 57.83 540.42 59.17 542.00 62.00 C543.58 64.83 545.33 70.00 547.00 75.00 C548.67 80.00 550.50 86.17 552.00 92.00 C553.50 97.83 554.67 103.33 556.00 110.00 C557.33 116.67 558.83 125.00 560.00 132.00 C561.17 139.00 562.00 146.00 563.00 152.00 C564.00 158.00 565.00 164.12 566.00 168.00 C567.00 171.88 568.00 174.50 569.00 175.25 C570.00 176.00 571.17 173.12 572.00 172.50 C572.83 171.88 573.04 170.83 574.00 171.50 C574.96 172.17 576.83 173.58 577.75 176.50 C578.67 179.42 578.79 184.83 579.50 189.00 C580.21 193.17 581.04 201.08 582.00 201.50 C582.96 201.92 584.08 193.58 585.25 191.50 C586.42 189.42 587.62 190.46 589.00 189.00 C590.38 187.54 592.25 187.75 593.50 182.75 C594.75 177.75 595.42 167.79 596.50 159.00 C597.58 150.21 598.75 139.00 600.00 130.00 C601.25 121.00 602.50 111.67 604.00 105.00 C605.50 98.33 607.33 94.33 609.00 90.00 C610.67 85.67 612.17 82.25 614.00 79.00 C615.83 75.75 618.12 72.21 620.00 70.50 C621.88 68.79 623.42 68.83 625.25 68.75 C627.08 68.67 629.04 68.79 631.00 70.00 C632.96 71.21 635.00 72.83 637.00 76.00 C639.00 79.17 641.17 84.17 643.00 89.00 C644.83 93.83 646.58 99.50 648.00 105.00 C649.42 110.50 650.29 115.83 651.50 122.00 C652.71 128.17 654.17 134.83 655.25 142.00 C656.33 149.17 657.17 157.17 658.00 165.00 C658.83 172.83 659.42 182.67 660.25 189.00 C661.08 195.33 662.04 201.17 663.00 203.00 C663.96 204.83 664.83 202.83 666.00 200.00 C667.17 197.17 668.83 189.67 670.00 186.00 C671.17 182.33 672.50 179.33 673.00 178.00" stroke="#008000" stroke-width="2.5" stroke-dasharray="16.6 9.1"/>
<path d="M488.30 179.00 C488.75 178.00 490.09 174.58 491.00 173.00 C491.91 171.42 492.83 169.83 493.75 169.50 C494.67 169.17 495.67 170.46 496.50 171.00 C497.33 171.54 498.08 173.75 498.75 172.75 C499.42 171.75 499.88 168.12 500.50 165.00 C501.12 161.88 501.58 160.67 502.50 154.00 C503.42 147.33 504.96 133.67 506.00 125.00 C507.04 116.33 507.88 108.12 508.75 102.00 C509.62 95.88 510.42 90.96 511.25 88.25 C512.08 85.54 512.88 85.29 513.75 85.75 C514.62 86.21 515.54 89.12 516.50 91.00 C517.46 92.88 518.58 96.83 519.50 97.00 C520.42 97.17 521.08 94.08 522.00 92.00 C522.92 89.92 524.00 88.17 525.00 84.50 C526.00 80.83 526.92 74.58 528.00 70.00 C529.08 65.42 530.42 59.92 531.50 57.00 C532.58 54.08 533.50 52.50 534.50 52.50 C535.50 52.50 536.38 52.92 537.50 57.00 C538.62 61.08 540.21 71.58 541.25 77.00 C542.29 82.42 542.71 85.75 543.75 89.50 C544.79 93.25 546.29 98.58 547.50 99.50 C548.71 100.42 549.96 96.33 551.00 95.00 C552.04 93.67 553.00 91.67 553.75 91.50 C554.50 91.33 554.88 92.25 555.50 94.00 C556.12 95.75 556.54 95.25 557.50 102.00 C558.46 108.75 560.21 125.83 561.25 134.50 C562.29 143.17 562.92 145.75 563.75 154.00 C564.58 162.25 565.21 172.75 566.25 184.00 C567.29 195.25 569.17 214.00 570.00 221.50 C570.83 229.00 570.62 229.83 571.25 229.00 C571.88 228.17 572.92 222.75 573.75 216.50 C574.58 210.25 575.46 197.75 576.25 191.50 C577.04 185.25 577.79 182.00 578.50 179.00 C579.21 176.00 579.67 173.50 580.50 173.50 C581.33 173.50 582.50 176.83 583.50 179.00 C584.50 181.17 585.42 186.50 586.50 186.50 C587.58 186.50 588.79 183.17 590.00 179.00 C591.21 174.83 592.92 165.67 593.75 161.50 C594.58 157.33 593.96 161.83 595.00 154.00 C596.04 146.17 598.58 126.50 600.00 114.50 C601.42 102.50 602.62 87.75 603.50 82.00 C604.38 76.25 604.33 78.33 605.25 80.00 C606.17 81.67 607.96 88.67 609.00 92.00 C610.04 95.33 610.67 99.58 611.50 100.00 C612.33 100.42 612.96 98.33 614.00 94.50 C615.04 90.67 616.58 83.08 617.75 77.00 C618.92 70.92 620.04 62.75 621.00 58.00 C621.96 53.25 622.71 50.46 623.50 48.50 C624.29 46.54 625.00 46.25 625.75 46.25 C626.50 46.25 627.12 46.21 628.00 48.50 C628.88 50.79 630.00 55.25 631.00 60.00 C632.00 64.75 632.80 72.47 634.00 77.00 C635.20 81.53 637.10 86.70 638.20 87.20 C639.30 87.70 639.80 81.97 640.60 80.00 C641.40 78.03 642.28 75.65 643.00 75.40 C643.72 75.15 644.32 76.15 644.90 78.50 C645.48 80.85 645.61 83.50 646.50 89.50 C647.39 95.50 649.00 106.17 650.25 114.50 C651.50 122.83 652.96 132.92 654.00 139.50 C655.04 146.08 655.88 150.58 656.50 154.00 C657.12 157.42 657.12 153.75 657.75 160.00 C658.38 166.25 659.62 182.67 660.25 191.50 C660.88 200.33 661.08 209.04 661.50 213.00 C661.92 216.96 662.30 215.25 662.75 215.25 C663.20 215.25 663.37 216.96 664.20 213.00 C665.03 209.04 666.63 197.67 667.75 191.50 C668.87 185.33 670.38 178.58 670.90 176.00" stroke="#000" stroke-width="2.4"/>
</g>
<rect x="489.00" y="45.90" width="184.40" height="185.30" fill="none" stroke="#111" stroke-width="1.3"/>
<line x1="489.00" y1="231.20" x2="489.00" y2="228.20" stroke="#000" stroke-width="1"/>
<line x1="489.00" y1="45.90" x2="489.00" y2="48.90" stroke="#000" stroke-width="1"/>
<line x1="535.10" y1="231.20" x2="535.10" y2="228.20" stroke="#000" stroke-width="1"/>
<line x1="535.10" y1="45.90" x2="535.10" y2="48.90" stroke="#000" stroke-width="1"/>
<line x1="581.20" y1="231.20" x2="581.20" y2="228.20" stroke="#000" stroke-width="1"/>
<line x1="581.20" y1="45.90" x2="581.20" y2="48.90" stroke="#000" stroke-width="1"/>
<line x1="627.30" y1="231.20" x2="627.30" y2="228.20" stroke="#000" stroke-width="1"/>
<line x1="627.30" y1="45.90" x2="627.30" y2="48.90" stroke="#000" stroke-width="1"/>
<line x1="673.40" y1="231.20" x2="673.40" y2="228.20" stroke="#000" stroke-width="1"/>
<line x1="673.40" y1="45.90" x2="673.40" y2="48.90" stroke="#000" stroke-width="1"/>
<line x1="489.00" y1="209.39" x2="492.00" y2="209.39" stroke="#000" stroke-width="1"/>
<line x1="673.40" y1="209.39" x2="670.40" y2="209.39" stroke="#000" stroke-width="1"/>
<text x="483.10" y="217.59" font-size="20" text-anchor="end">-1</text>
<line x1="489.00" y1="186.68" x2="492.00" y2="186.68" stroke="#000" stroke-width="1"/>
<line x1="673.40" y1="186.68" x2="670.40" y2="186.68" stroke="#000" stroke-width="1"/>
<text x="483.10" y="194.88" font-size="20" text-anchor="end">0</text>
<line x1="489.00" y1="163.97" x2="492.00" y2="163.97" stroke="#000" stroke-width="1"/>
<line x1="673.40" y1="163.97" x2="670.40" y2="163.97" stroke="#000" stroke-width="1"/>
<text x="483.10" y="172.17" font-size="20" text-anchor="end">1</text>
<line x1="489.00" y1="141.25" x2="492.00" y2="141.25" stroke="#000" stroke-width="1"/>
<line x1="673.40" y1="141.25" x2="670.40" y2="141.25" stroke="#000" stroke-width="1"/>
<text x="483.10" y="149.45" font-size="20" text-anchor="end">2</text>
<line x1="489.00" y1="118.54" x2="492.00" y2="118.54" stroke="#000" stroke-width="1"/>
<line x1="673.40" y1="118.54" x2="670.40" y2="118.54" stroke="#000" stroke-width="1"/>
<text x="483.10" y="126.74" font-size="20" text-anchor="end">3</text>
<line x1="489.00" y1="95.83" x2="492.00" y2="95.83" stroke="#000" stroke-width="1"/>
<line x1="673.40" y1="95.83" x2="670.40" y2="95.83" stroke="#000" stroke-width="1"/>
<text x="483.10" y="104.03" font-size="20" text-anchor="end">4</text>
<line x1="489.00" y1="73.11" x2="492.00" y2="73.11" stroke="#000" stroke-width="1"/>
<line x1="673.40" y1="73.11" x2="670.40" y2="73.11" stroke="#000" stroke-width="1"/>
<text x="483.10" y="81.31" font-size="20" text-anchor="end">5</text>
<line x1="489.00" y1="50.40" x2="492.00" y2="50.40" stroke="#000" stroke-width="1"/>
<line x1="673.40" y1="50.40" x2="670.40" y2="50.40" stroke="#000" stroke-width="1"/>
<text x="483.10" y="58.60" font-size="20" text-anchor="end">6</text>
<text transform="translate(503.30 253.20) rotate(-45)" font-size="20" text-anchor="end">0</text>
<text transform="translate(549.40 253.20) rotate(-45)" font-size="20" text-anchor="end">90</text>
<text transform="translate(595.50 253.20) rotate(-45)" font-size="20" text-anchor="end">180</text>
<text transform="translate(641.60 253.20) rotate(-45)" font-size="20" text-anchor="end">270</text>
<text transform="translate(687.70 253.20) rotate(-45)" font-size="20" text-anchor="end">360</text>
<text x="581.20" y="37.6" font-size="21" text-anchor="middle">Pass #11</text>
<text x="581.20" y="303.5" font-size="21" word-spacing="1.6" text-anchor="middle">Rotation angle <tspan class="i">θ</tspan> (°)</text>
<text transform="translate(467.70 124.95) rotate(-90)" font-size="21" word-spacing="1.3" text-anchor="middle">Force <tspan class="i">F</tspan> (N)</text>
</g>
</svg></body></html>
